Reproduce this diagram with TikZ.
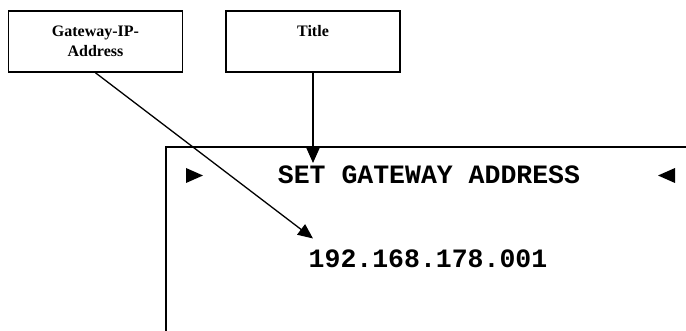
\documentclass[tikz,border=0pt]{standalone}
\usepackage{fontspec}
\setmainfont{Liberation Serif}
\newfontfamily\monob{Liberation Mono}[BoldFont={* Bold}]
\usetikzlibrary{arrows.meta}
\begin{document}
\begin{tikzpicture}[x=1pt,y=-1pt,
  labelbox/.style={draw, line width=1.6pt, minimum width=174pt, minimum height=61pt,
    inner sep=0pt, align=center, font=\fontsize{16}{20.5}\selectfont\bfseries},
  conn/.style={line width=1.3pt, -{Triangle[length=15pt,width=13pt]}},
  disp/.style={font=\fontsize{26.5}{30}\selectfont\monob\bfseries, inner sep=0pt},
  pointer/.style={fill=black, draw=none}]
\useasboundingbox (0,0) rectangle (686,331);
% display frame (clipped by picture edges)
\draw[line width=2pt] (166,345) -- (166,147) -- (700,147);
% label boxes
\node[labelbox] (gw) at (95.5,41.5) {Gateway-IP-\\Address};
\node[labelbox] (title) at (313,41.5) {Title\\\mbox{}};
% display texts
\node[disp] (head) at (429,175) {SET GATEWAY ADDRESS};
\node[disp] (ip) at (428,258.5) {192.168.178.001};
% pointers
\path[pointer] (186,168) -- (203,175.5) -- (186,183) -- cycle;
\path[pointer] (675,168) -- (658,175.5) -- (675,183) -- cycle;
% connectors
\coordinate (ttip) at (313,163);
\coordinate (gtip) at (313,238.5);
\draw[conn] (title.south) -- (ttip);
\draw[conn] (gw.south) -- (gtip);
\end{tikzpicture}
\end{document}
